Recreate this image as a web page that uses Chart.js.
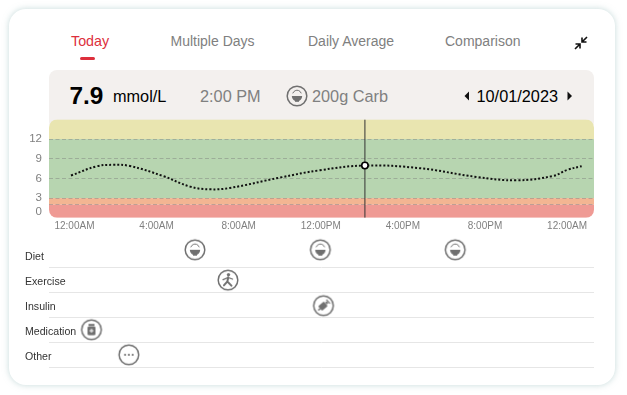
<!DOCTYPE html>
<html>
<head>
<meta charset="utf-8">
<title>Glucose</title>
<script src="https://cdn.jsdelivr.net/npm/chart.js@4"></script>
<style>
  html, body { margin: 0; padding: 0; background: #fff; }
  body { width: 627px; height: 395px; position: relative; overflow: hidden; font-family: "Liberation Sans", Arial, sans-serif; }
  #card { position: absolute; left: 9px; top: 9px; width: 606px; height: 376px; background: #fff; border-radius: 17px; box-shadow: 0 0 6px rgba(150,185,185,.55); }
  #panel { position: absolute; left: 49px; top: 70px; width: 545px; height: 60px; background: #f3f0ee; border-radius: 8px; }
  .t { position: absolute; white-space: nowrap; line-height: 20px; height: 20px; }
  .tab { font-size: 14px; color: #808080; top: 31px; }
  .grey { font-size: 16.3px; color: #808080; top: 86px; }
  canvas.c { position: absolute; left: 0; }
  svg, canvas.i { position: absolute; }
</style>
</head>
<body>
<div id="card"></div>
<div id="panel"></div>

<div class="t tab" style="left:71px;color:#dd2f3c;font-size:14.3px">Today</div>
<div style="position:absolute;left:80px;top:57px;width:15px;height:3px;border-radius:2px;background:#dd2f3c"></div>
<div class="t tab" style="left:170.5px">Multiple Days</div>
<div class="t tab" style="left:308px">Daily Average</div>
<div class="t tab" style="left:445px">Comparison</div>
<svg style="left:573px;top:35px" width="16" height="16" viewBox="0 0 16 16">
  <path d="M14 2 L9.5 6.5 M9 2.5 V7 H13.5 M2 14 L6.5 9.5 M7 13.5 V9 H2.5" fill="none" stroke="#111" stroke-width="1.6"/>
</svg>

<div class="t" style="left:69.5px;top:86px;font-size:24.4px;font-weight:bold;color:#000">7.9</div>
<div class="t" style="left:113px;top:86px;font-size:16.3px;color:#000">mmol/L</div>
<div class="t grey" style="left:200px">2:00 PM</div>
<canvas class="i" id="headIcon" width="24" height="24" style="left:285px;top:84px"></canvas>
<div class="t grey" style="left:312px">200g Carb</div>
<svg style="left:463px;top:90px" width="8" height="12"><polygon points="6,1.5 6,10.5 1.5,6" fill="#111"/></svg>
<div class="t" style="left:476.5px;top:86px;font-size:16.3px;color:#000">10/01/2023</div>
<svg style="left:566px;top:90px" width="8" height="12"><polygon points="1.5,1.5 1.5,10.5 6,6" fill="#111"/></svg>

<canvas class="c" id="glucose" style="top:110px"></canvas>
<canvas class="c" id="events" style="top:235px"></canvas>

<script>
// glucose curve, x in hours since midnight
const hours = [-0.17, 1.08, 1.89, 2.70, 4.33, 5.63, 6.60, 7.57, 10.01, 11.96, 14.15, 16.83, 19.59, 21.54, 23.32, 24.0, 24.71];
const glucose = [6.44, 7.85, 8.07, 7.9, 6.35, 4.75, 4.34, 4.55, 6.13, 7.25, 7.97, 7.56, 6.23, 5.72, 6.38, 7.3, 7.87];
const selectedHour = 14.15;

const xTicks = [0, 4, 8, 12, 16, 20, 24];
const xLabels = ['12:00AM', '4:00AM', '8:00AM', '12:00PM', '4:00PM', '8:00PM', '12:00AM'];
const yTicks = [0, 2, 3, 6, 9, 12, 15];
const yLabels = ['0', '', '3', '6', '9', '12', ''];

// range bands behind the curve
const bandLimits = [[12, 15], [3, 12], [2, 3], [0, 2]];
const bandColors = ['#e9e5b0', '#b7d5b0', '#f3b592', '#ef9a94'];

// event rows
const rowNames = ['Diet', 'Exercise', 'Insulin', 'Medication', 'Other'];
const rowKinds = ['diet', 'exercise', 'insulin', 'medication', 'other'];
const rowLevels = [0.31, 1.52, 2.54, 3.5, 4.5];
const rowHours = [[5.87, 11.98, 18.55], [7.48], [12.13], [0.83], [2.65]];

const xMin = -1.24, xMax = 25.31;
const iconGrey = '#707070';

function makeIcon(cv, kind) {
    const c = cv.getContext('2d');
    c.strokeStyle = iconGrey;
    c.fillStyle = iconGrey;
    c.lineWidth = 1.5;
    c.lineCap = 'round';
    c.beginPath();
    c.arc(12, 12, 9.8, 0, Math.PI * 2);
    c.stroke();
    if (kind === 'diet') {
        c.lineWidth = 1;
        c.beginPath();
        c.arc(12, 10.6, 4.4, Math.PI * 1.12, Math.PI * 1.88);
        c.stroke();
        c.beginPath();
        c.moveTo(6.8, 12);
        c.lineTo(17.2, 12);
        c.arc(12, 12, 5.2, 0, Math.PI);
        c.fill();
        c.fillRect(10, 16.4, 4, 1.4);
    } else if (kind === 'exercise') {
        c.beginPath();
        c.arc(12.5, 6.6, 1.7, 0, Math.PI * 2);
        c.fill();
        c.lineWidth = 2;
        c.beginPath();
        c.moveTo(12.2, 9.2);
        c.lineTo(11.4, 13.4);
        c.lineTo(15.5, 17.6);
        c.moveTo(11.4, 13.4);
        c.lineTo(8, 17.2);
        c.stroke();
        c.lineWidth = 1.3;
        c.beginPath();
        c.moveTo(7, 11.6);
        c.lineTo(12, 9.4);
        c.lineTo(16.6, 11);
        c.stroke();
    } else if (kind === 'insulin') {
        c.save();
        c.translate(12, 12);
        c.rotate(Math.PI * 0.27);
        c.beginPath();
        c.roundRect(-3, -3, 6, 7.5, 1);
        c.fill();
        c.fillRect(-0.7, 4.5, 1.4, 2.5);
        c.fillRect(-1.2, -5.4, 2.4, 2);
        c.fillRect(-2.8, -6.8, 5.6, 1.1);
        c.restore();
    } else if (kind === 'medication') {
        c.fillRect(9, 6.2, 6, 1.8);
        c.beginPath();
        c.roundRect(8, 8.6, 8, 8.8, 1.5);
        c.fill();
        c.strokeStyle = '#fff';
        c.lineWidth = 1;
        c.beginPath();
        c.moveTo(12, 11.3);
        c.lineTo(12, 14.7);
        c.moveTo(10.3, 13);
        c.lineTo(13.7, 13);
        c.stroke();
    } else {
        [8.2, 12, 15.8].forEach(x => {
            c.beginPath();
            c.arc(x, 12, 1.1, 0, Math.PI * 2);
            c.fill();
        });
    }
    return cv;
}

function newIcon(kind) {
    const cv = document.createElement('canvas');
    cv.width = 24;
    cv.height = 24;
    return makeIcon(cv, kind);
}

makeIcon(document.getElementById('headIcon'), 'diet');

const bandsPlugin = {
    id: 'bands',
    beforeDraw(chart) {
        const { ctx, chartArea: a, scales: { y } } = chart;
        ctx.save();
        ctx.beginPath();
        ctx.roundRect(a.left, a.top, a.right - a.left, a.bottom - a.top, 8);
        ctx.clip();
        bandLimits.forEach((b, i) => {
            const top = y.getPixelForValue(b[1]);
            ctx.fillStyle = bandColors[i];
            ctx.fillRect(a.left, top, a.right - a.left, y.getPixelForValue(b[0]) - top);
        });
        ctx.restore();
    }
};

const glucoseCv = document.getElementById('glucose');
glucoseCv.width = 627;
glucoseCv.height = 130;
glucoseCv.style.width = '627px';
glucoseCv.style.height = '130px';

new Chart(glucoseCv, {
    type: 'scatter',
    data: {
        datasets: [
            {
                data: hours.map((h, i) => ({ x: h, y: glucose[i] })),
                showLine: true,
                borderColor: '#111',
                borderWidth: 2,
                borderDash: [2, 2],
                tension: 0.4,
                pointRadius: ctx => (hours[ctx.dataIndex] === selectedHour ? 3.2 : 0),
                pointBackgroundColor: '#fff',
                pointBorderColor: '#000',
                pointBorderWidth: 1.6
            },
            {
                // cursor
                data: [{ x: selectedHour, y: 0 }, { x: selectedHour, y: 15 }],
                showLine: true,
                borderColor: '#333',
                borderWidth: 1,
                pointRadius: 0
            }
        ]
    },
    options: {
        responsive: false,
        animation: false,
        layout: { padding: { top: 9.4, right: 33 } },
        plugins: { legend: { display: false }, tooltip: { enabled: false } },
        scales: {
            x: {
                type: 'linear',
                min: xMin,
                max: xMax,
                afterBuildTicks: s => { s.ticks = xTicks.map(v => ({ value: v })); },
                afterFit: s => { s.height = 22.2; s.paddingLeft = 0; s.paddingRight = 0; },
                grid: { display: false, drawTicks: false },
                border: { display: false },
                ticks: {
                    callback: v => xLabels[xTicks.indexOf(v)],
                    autoSkip: false,
                    maxRotation: 0,
                    padding: 2.4,
                    color: '#808080',
                    font: { family: '"Liberation Sans"', size: 10 }
                }
            },
            y: {
                min: 0,
                max: 15,
                afterBuildTicks: s => { s.ticks = yTicks.map(v => ({ value: v })); },
                afterFit: s => { s.width = 49; s.paddingTop = 0; s.paddingBottom = 0; },
                grid: {
                    drawTicks: false,
                    lineWidth: 1,
                    color: ctx => (ctx.tick && (ctx.tick.value === 0 || ctx.tick.value === 15) ? 'transparent' : 'rgba(125,125,125,.45)')
                },
                border: { display: false, dash: [4, 2.5] },
                ticks: {
                    // 0 sits a little above the axis bottom
                    callback: v => (v === 0 ? ['0', ''] : yLabels[yTicks.indexOf(v)]),
                    autoSkip: false,
                    padding: 7,
                    color: '#808080',
                    font: { family: '"Liberation Sans"', size: 11.5, lineHeight: 1 }
                }
            }
        }
    },
    plugins: [bandsPlugin]
});

const eventsCv = document.getElementById('events');
eventsCv.width = 627;
eventsCv.height = 140;
eventsCv.style.width = '627px';
eventsCv.style.height = '140px';

new Chart(eventsCv, {
    type: 'scatter',
    data: {
        datasets: rowNames.map((name, i) => ({
            label: name,
            data: rowHours[i].map(h => ({ x: h, y: rowLevels[i] })),
            pointStyle: newIcon(rowKinds[i]),
            clip: false
        }))
    },
    options: {
        responsive: false,
        animation: false,
        layout: { padding: { top: 7, right: 33, bottom: 7.7 } },
        plugins: { legend: { display: false }, tooltip: { enabled: false } },
        scales: {
            x: { type: 'linear', min: xMin, max: xMax, display: false },
            y: {
                min: 0,
                max: 5,
                reverse: true,
                afterBuildTicks: s => { s.ticks = [0, 1, 2, 3, 4, 5].map(v => ({ value: v })); },
                afterFit: s => { s.width = 49; s.paddingTop = 0; s.paddingBottom = 0; },
                grid: {
                    drawTicks: false,
                    lineWidth: 1,
                    color: ctx => (ctx.tick && ctx.tick.value === 0 ? 'transparent' : '#e6e6e6')
                },
                border: { display: false },
                ticks: {
                    callback: v => (v > 0 ? rowNames[v - 1] : ''),
                    autoSkip: false,
                    mirror: true,
                    padding: -24,
                    labelOffset: -10,
                    color: '#333',
                    font: { family: '"Liberation Sans"', size: 10.6 }
                }
            }
        }
    }
});
</script>
</body>
</html>
